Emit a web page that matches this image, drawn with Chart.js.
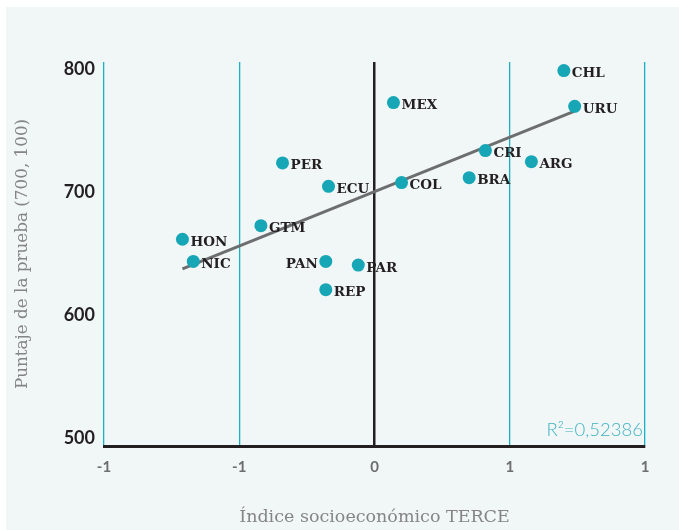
<!DOCTYPE html>
<html>
<head>
<meta charset="utf-8">
<script src="https://cdn.jsdelivr.net/npm/chart.js@4.4.0/dist/chart.umd.min.js"></script>
<style>
  html, body { margin: 0; padding: 0; background: #fff; }
  #box { position: absolute; left: 6px; top: 7px; width: 673px; height: 523px; background: #f1f7f7; }
  canvas { display: block; }
</style>
</head>
<body>
<div id="box"><canvas id="myScatter" width="673" height="523"></canvas></div>
<script>
// datos
var paises   = ['CHL', 'URU', 'MEX', 'CRI', 'ARG', 'BRA', 'COL', 'PER', 'ECU', 'GTM', 'HON', 'NIC', 'PAN', 'PAR', 'REP'];
var indiceSE = [0.70, 0.74, 0.07, 0.41, 0.58, 0.35, 0.10, -0.34, -0.17, -0.42, -0.71, -0.67, -0.18, -0.06, -0.18];
var puntaje  = [799, 770, 773, 734, 725, 712, 708, 724, 705, 673, 662, 644, 644, 641, 621];
var tendenciaX = [-0.71, 0.74];
var tendenciaY = [638, 766];
var xTickLabels = ['-1', '-1', '0', '1', '1'];
var yTicks = [500, 600, 700, 800];
var r2Texto = 'R\u00b2=0,52386';
var etiquetaIzq = ['PAN'];

var puntos = paises.map(function (p, i) { return { x: indiceSE[i], y: puntaje[i] }; });
var linea = tendenciaX.map(function (x, i) { return { x: x, y: tendenciaY[i] }; });

var teal = '#16a6b6';
var oscuro = '#231f20';

var etiquetas = {
  id: 'etiquetas',
  afterDatasetsDraw: function (chart) {
    var ctx = chart.ctx;
    var meta = chart.getDatasetMeta(0);
    ctx.save();
    ctx.font = 'bold 13.5px "DejaVu Serif"';
    ctx.fillStyle = oscuro;
    ctx.textBaseline = 'middle';
    meta.data.forEach(function (pt, i) {
      var izq = etiquetaIzq.indexOf(paises[i]) >= 0;
      ctx.textAlign = izq ? 'right' : 'left';
      ctx.fillText(paises[i], pt.x + (izq ? -8 : 8), pt.y + 3);
    });
    var a = chart.chartArea;
    ctx.font = '300 18.5px Lato';
    ctx.fillStyle = '#3fb1c1';
    ctx.textAlign = 'right';
    ctx.textBaseline = 'alphabetic';
    ctx.fillText(r2Texto, a.right - 2, a.bottom - 10);
    ctx.restore();
  }
};

var myScatter = new Chart(document.getElementById('myScatter').getContext('2d'), {
  type: 'scatter',
  data: {
    datasets: [{
      data: puntos,
      backgroundColor: teal,
      borderWidth: 0,
      pointRadius: 6.5
    }, {
      type: 'line',
      data: linea,
      borderColor: '#6d6e70',
      borderWidth: 3,
      pointRadius: 0,
      fill: false
    }]
  },
  options: {
    responsive: false,
    animation: false,
    layout: { padding: { left: 0, top: 55, right: 34, bottom: 0 } },
    plugins: { legend: { display: false }, tooltip: { enabled: false } },
    scales: {
      x: {
        min: -1,
        max: 1,
        ticks: {
          stepSize: 0.5,
          padding: 12,
          color: '#6d6e70',
          font: { family: 'Lato', size: 15, weight: 'bold' },
          callback: function (v, i) { return xTickLabels[i]; }
        },
        grid: {
          drawTicks: false,
          color: function (c) { return c.tick && c.tick.value === 0 ? oscuro : '#19b2c5'; },
          lineWidth: function (c) { return c.tick && c.tick.value === 0 ? 2.5 : 1.3; }
        },
        border: { display: true, color: oscuro, width: 3 },
        title: {
          display: true,
          text: '\u00cdndice socioecon\u00f3mico TERCE',
          color: '#858585',
          font: { family: 'DejaVu Serif', size: 17.5 },
          padding: { top: 0, bottom: 2 }
        },
        afterFit: function (s) { s.height = 84; }
      },
      y: {
        min: 494,
        max: 806,
        afterBuildTicks: function (s) { s.ticks = yTicks.map(function (v) { return { value: v }; }); },
        ticks: {
          padding: 9,
          color: oscuro,
          font: { family: 'Lato', size: 18, weight: 'bold' }
        },
        grid: { display: false, drawTicks: false },
        border: { display: false },
        title: {
          display: true,
          text: 'Puntaje de la prueba (700, 100)',
          color: '#858585',
          font: { family: 'DejaVu Serif', size: 16.8 },
          padding: { top: 7, bottom: 0 }
        },
        afterFit: function (s) { s.width = 98; }
      }
    }
  },
  plugins: [etiquetas]
});
</script>
</body>
</html>
